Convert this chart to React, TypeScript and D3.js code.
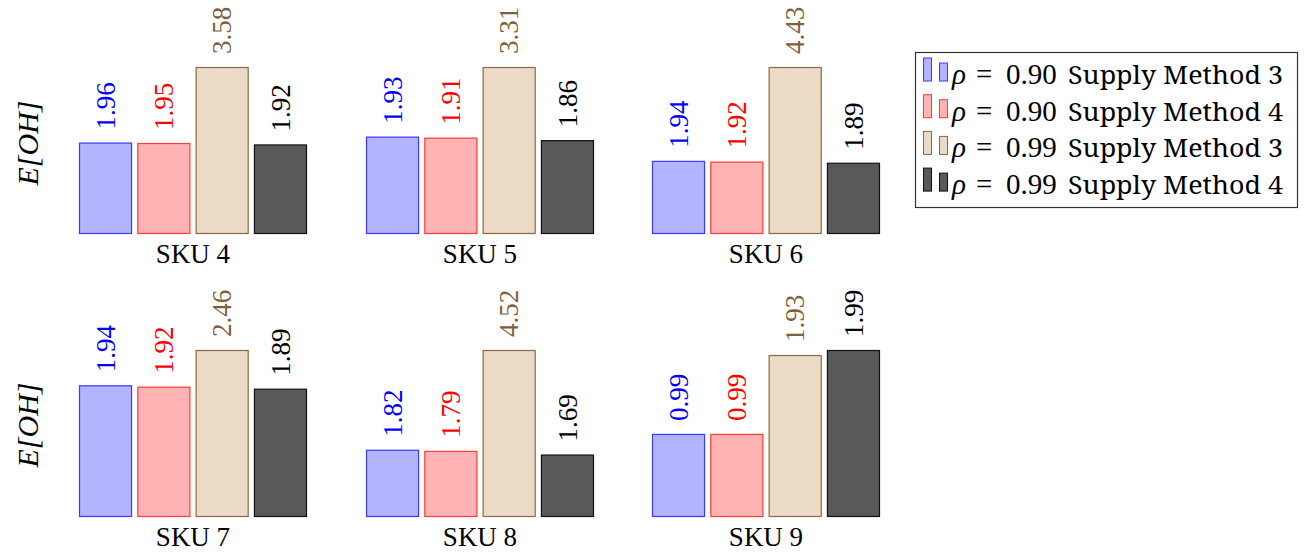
import React from "react";
import * as d3 from "d3";

const skus = ["SKU 4", "SKU 5", "SKU 6", "SKU 7", "SKU 8", "SKU 9"];
const seriesNames = ["0.90 Supply Method 3", "0.90 Supply Method 4", "0.99 Supply Method 3", "0.99 Supply Method 4"];
const rhoValues = ["0.90", "0.90", "0.99", "0.99"];
const methodNames = ["Supply Method 3", "Supply Method 4", "Supply Method 3", "Supply Method 4"];
const rho90m3 = [1.96, 1.93, 1.94, 1.94, 1.82, 0.99];
const rho90m4 = [1.95, 1.91, 1.92, 1.92, 1.79, 0.99];
const rho99m3 = [3.58, 3.31, 4.43, 2.46, 4.52, 1.93];
const rho99m4 = [1.92, 1.86, 1.89, 1.89, 1.69, 1.99];
const yLabel = "E[OH]";

const fills = ["#b3b3ff", "#ffb3b3", "#ebdac6", "#595959"];
const strokes = ["#3a3aff", "#ff3a3a", "#8a6944", "#111111"];
const labelColors = ["#0000ff", "#ff0000", "#7f5f3c", "#000000"];

const serif = "Liberation Serif";
const legendFont = "Noto Serif";

export default function App() {
  const series = [rho90m3, rho90m4, rho99m3, rho99m4];
  const panelX0 = [79, 366, 652];
  const panelW = 228;
  const rowBase = [234, 517];
  const plotH = 167;

  const panels = skus.map((sku, p) => {
    const col = p % 3;
    const row = Math.floor(p / 3);
    const x0 = panelX0[col];
    const base = rowBase[row];
    const vals = series.map((s) => s[p]);
    const x = d3.scaleBand<number>().domain([0, 1, 2, 3]).range([x0, x0 + panelW]).paddingInner(0.09).paddingOuter(0);
    const y = d3.scaleLinear().domain([0, d3.max(vals) as number]).range([base, base - plotH]);
    return (
      <g key={sku}>
        {vals.map((v, i) => {
          const bx = x(i) as number;
          const bw = x.bandwidth();
          const top = y(v);
          const cx = bx + bw / 2;
          return (
            <g key={i}>
              <rect x={bx + 0.5} y={top + 0.5} width={bw - 1} height={base - top - 1}
                fill={fills[i]} stroke={strokes[i]} strokeWidth={1.2} />
              <text transform={`translate(${cx},${top - 13}) rotate(-90)`} dy="0.34em"
                style={{ fontFamily: serif, fontSize: 27 }} fill={labelColors[i]}>
                {v.toFixed(2)}
              </text>
            </g>
          );
        })}
        <text x={x0 + panelW / 2} y={base + 29} textAnchor="middle" style={{ fontFamily: serif, fontSize: 27 }} fill="#000">
          {sku}
        </text>
      </g>
    );
  });

  const legendRows = seriesNames.map((name, i) => {
    const baseY = 84 + i * 36.7;
    return (
      <g key={name}>
        <rect x={923.5} y={baseY - 26} width={8} height={23} fill={fills[i]} stroke={strokes[i]} strokeWidth={1} />
        <rect x={939.5} y={baseY - 21} width={8} height={18} fill={fills[i]} stroke={strokes[i]} strokeWidth={1} />
        <text x={952} y={baseY} style={{ fontFamily: serif, fontSize: 29, fontStyle: "italic" }} fill="#000">ρ</text>
        <text x={976} y={baseY} style={{ fontFamily: serif, fontSize: 29 }} fill="#000">=</text>
        <text x={1006} y={baseY} style={{ fontFamily: serif, fontSize: 29 }} fill="#000">{rhoValues[i]}</text>
        <text x={1068} y={baseY} style={{ fontFamily: legendFont, fontSize: 25 }} fill="#000"
          textLength={215} lengthAdjust="spacingAndGlyphs">{methodNames[i]}</text>
      </g>
    );
  });

  return (
    <svg width={1306} height={553} style={{ position: "absolute", left: 0, top: 0, background: "#fff" }}>
      <rect x={0} y={0} width={1306} height={553} fill="#fff" />
      {[143, 425].map((cy, r) => (
        <text key={r} transform={`translate(29,${cy}) rotate(-90)`} textAnchor="middle" dy="0.3em"
          style={{ fontFamily: serif, fontSize: 30, fontStyle: "italic" }} fill="#000">
          {yLabel}
        </text>
      ))}
      {panels}
      <rect x={915.5} y={52.5} width={382} height={155} fill="none" stroke="#333" strokeWidth={1.2} />
      {legendRows}
    </svg>
  );
}
